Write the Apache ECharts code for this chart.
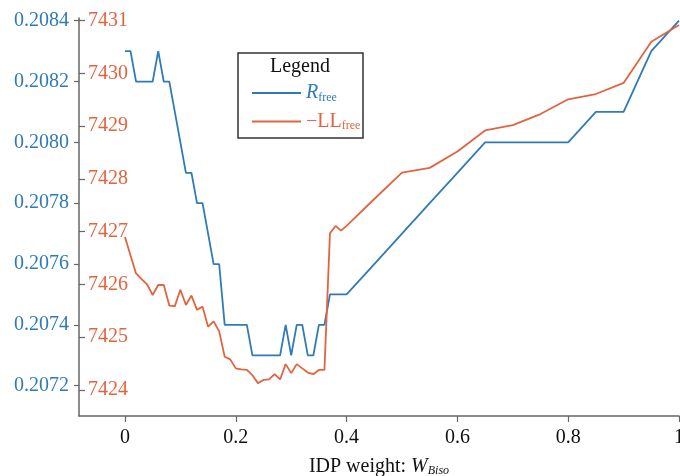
<!DOCTYPE html>
<html>
<head>
<meta charset="utf-8">
<title>IDP weight</title>
<script src="https://cdn.jsdelivr.net/npm/echarts@6/dist/echarts.min.js"></script>
<style>
  html, body { margin: 0; padding: 0; background: #fff; }
  #chart { width: 680px; height: 476px; }
</style>
</head>
<body>
<div id="chart"></div>
<script>
// IDP weight (x)
const wBiso = [
  0.00, 0.01, 0.02, 0.03, 0.04, 0.05, 0.06, 0.07, 0.08, 0.09,
  0.10, 0.11, 0.12, 0.13, 0.14, 0.15, 0.16, 0.17, 0.18, 0.19,
  0.20, 0.21, 0.22, 0.23, 0.24, 0.25, 0.26, 0.27, 0.28, 0.29,
  0.30, 0.31, 0.32, 0.33, 0.34, 0.35, 0.36, 0.37, 0.38, 0.39,
  0.40, 0.45, 0.50, 0.55, 0.60, 0.65, 0.70, 0.75, 0.80, 0.85,
  0.90, 0.95, 1.00
];

const rFree = [
  0.2083, 0.2083, 0.2082, 0.2082, 0.2082, 0.2082, 0.2083, 0.2082, 0.2082, 0.2081,
  0.2080, 0.2079, 0.2079, 0.2078, 0.2078, 0.2077, 0.2076, 0.2076, 0.2074, 0.2074,
  0.2074, 0.2074, 0.2074, 0.2073, 0.2073, 0.2073, 0.2073, 0.2073, 0.2073, 0.2074,
  0.2073, 0.2074, 0.2074, 0.2073, 0.2073, 0.2074, 0.2074, 0.2075, 0.2075, 0.2075,
  0.2075, 0.2076, 0.2077, 0.2078, 0.2079, 0.2080, 0.2080, 0.2080, 0.2080, 0.2081,
  0.2081, 0.2083, 0.2084
];

const negLLfree = [
  7426.90, 7426.55, 7426.21, 7426.10, 7426.00, 7425.80, 7425.99, 7425.99, 7425.60, 7425.59,
  7425.90, 7425.61, 7425.79, 7425.52, 7425.58, 7425.20, 7425.30, 7425.11, 7424.63, 7424.58,
  7424.41, 7424.39, 7424.38, 7424.28, 7424.13, 7424.19, 7424.20, 7424.30, 7424.20, 7424.49,
  7424.32, 7424.49, 7424.41, 7424.33, 7424.30, 7424.38, 7424.38, 7426.97, 7427.11, 7427.02,
  7427.11, 7427.62, 7428.12, 7428.21, 7428.52, 7428.92, 7429.02, 7429.23, 7429.51, 7429.61,
  7429.82, 7430.60, 7430.92
];

const xTicks = [0, 0.2, 0.4, 0.6, 0.8, 1];
const rTicks = [0.2072, 0.2074, 0.2076, 0.2078, 0.2080, 0.2082, 0.2084];
const llTicks = [7424, 7425, 7426, 7427, 7428, 7429, 7430, 7431];

const BLUE = '#2f7bb6';
const RED = '#e2643f';
const FONT = 'Liberation Serif';

// subscript token: sits a little below the baseline of the 20px text
const sub = (color, italic) => ({
  fontFamily: FONT, fontSize: 12, lineHeight: 12, color: color,
  fontStyle: italic ? 'italic' : 'normal',
  verticalAlign: 'bottom', padding: [6, 0, 0, 0]
});

const chart = echarts.init(document.getElementById('chart'));

const option = {
  animation: false,
  textStyle: { fontFamily: FONT },
  grid: { left: 79, right: 1, top: 18, bottom: 60, outerBoundsMode: 'none' },
  graphic: [
    {
      type: 'rect',
      shape: { x: 238, y: 53, width: 125, height: 85 },
      style: { fill: '#fff', stroke: '#333', lineWidth: 1.5 },
      z: 5
    },
    {
      type: 'text',
      x: 300, y: 67,
      style: { text: 'Legend', font: '20px "Liberation Serif"', fill: '#111', align: 'center', verticalAlign: 'middle' },
      z: 6
    }
  ],
  legend: {
    orient: 'vertical',
    left: 247,
    top: 78,
    itemWidth: 49,
    itemHeight: 2,
    itemGap: 8,
    icon: 'rect',
    z: 7,
    data: [
      { name: 'Rfree', textStyle: { color: BLUE } },
      { name: 'LLfree', textStyle: { color: RED } }
    ],
    formatter: function (name) {
      if (name === 'Rfree') return '{rb|R}{sb|free}';
      return '{nr|\u2212LL}{sr|free}';
    },
    textStyle: {
      fontFamily: FONT,
      rich: {
        rb: { fontFamily: FONT, fontSize: 20, fontStyle: 'italic', color: BLUE, lineHeight: 21 },
        sb: sub(BLUE, false),
        nr: { fontFamily: FONT, fontSize: 20, color: RED, lineHeight: 21 },
        sr: sub(RED, false)
      }
    }
  },
  xAxis: {
    type: 'value',
    min: -0.083,
    max: 1,
    name: '{t|IDP weight: }{w|W}{s|Biso}',
    nameLocation: 'middle',
    nameGap: 40,
    nameTextStyle: {
      fontFamily: FONT, fontSize: 20, color: '#111',
      rich: {
        t: { fontFamily: FONT, fontSize: 20, color: '#111', lineHeight: 21 },
        w: { fontFamily: FONT, fontSize: 20, fontStyle: 'italic', color: '#111', lineHeight: 21 },
        s: sub('#111', true)
      }
    },
    axisLine: { onZero: false, lineStyle: { color: '#666', width: 1.5 } },
    axisTick: { show: true, length: 6, lineStyle: { color: '#666', width: 1.2 }, customValues: xTicks },
    axisLabel: {
      customValues: xTicks,
      fontSize: 20, color: '#111', margin: 12,
      formatter: function (v) { return String(v); }
    },
    splitLine: { show: false }
  },
  yAxis: [
    {
      type: 'value',
      position: 'left',
      min: 0.2071004,
      max: 0.2084089,
      axisLine: { show: true, onZero: false, lineStyle: { color: '#666', width: 1.5 } },
      axisTick: { show: true, length: 5, lineStyle: { color: '#666', width: 1.2 }, customValues: rTicks },
      axisLabel: {
        customValues: rTicks,
        fontSize: 20, color: BLUE, margin: 10,
        formatter: function (v) { return v.toFixed(4); }
      },
      splitLine: { show: false }
    },
    {
      type: 'value',
      position: 'left',
      offset: 0,
      min: 7423.507,
      max: 7431.051,
      axisLine: { show: false, onZero: false },
      axisTick: { show: true, inside: true, length: 6, lineStyle: { color: '#666', width: 1.2 }, customValues: llTicks },
      axisLabel: {
        customValues: llTicks,
        inside: true,
        fontSize: 20, color: RED, margin: 9,
        formatter: function (v) { return String(v); }
      },
      splitLine: { show: false }
    }
  ],
  series: [
    {
      name: 'Rfree',
      type: 'line',
      yAxisIndex: 0,
      showSymbol: false,
      lineStyle: { color: BLUE, width: 1.8 },
      itemStyle: { color: BLUE },
      data: wBiso.map((w, i) => [w, rFree[i]])
    },
    {
      name: 'LLfree',
      type: 'line',
      yAxisIndex: 1,
      showSymbol: false,
      lineStyle: { color: RED, width: 1.8 },
      itemStyle: { color: RED },
      data: wBiso.map((w, i) => [w, negLLfree[i]])
    }
  ]
};

chart.setOption(option);
</script>
</body>
</html>
